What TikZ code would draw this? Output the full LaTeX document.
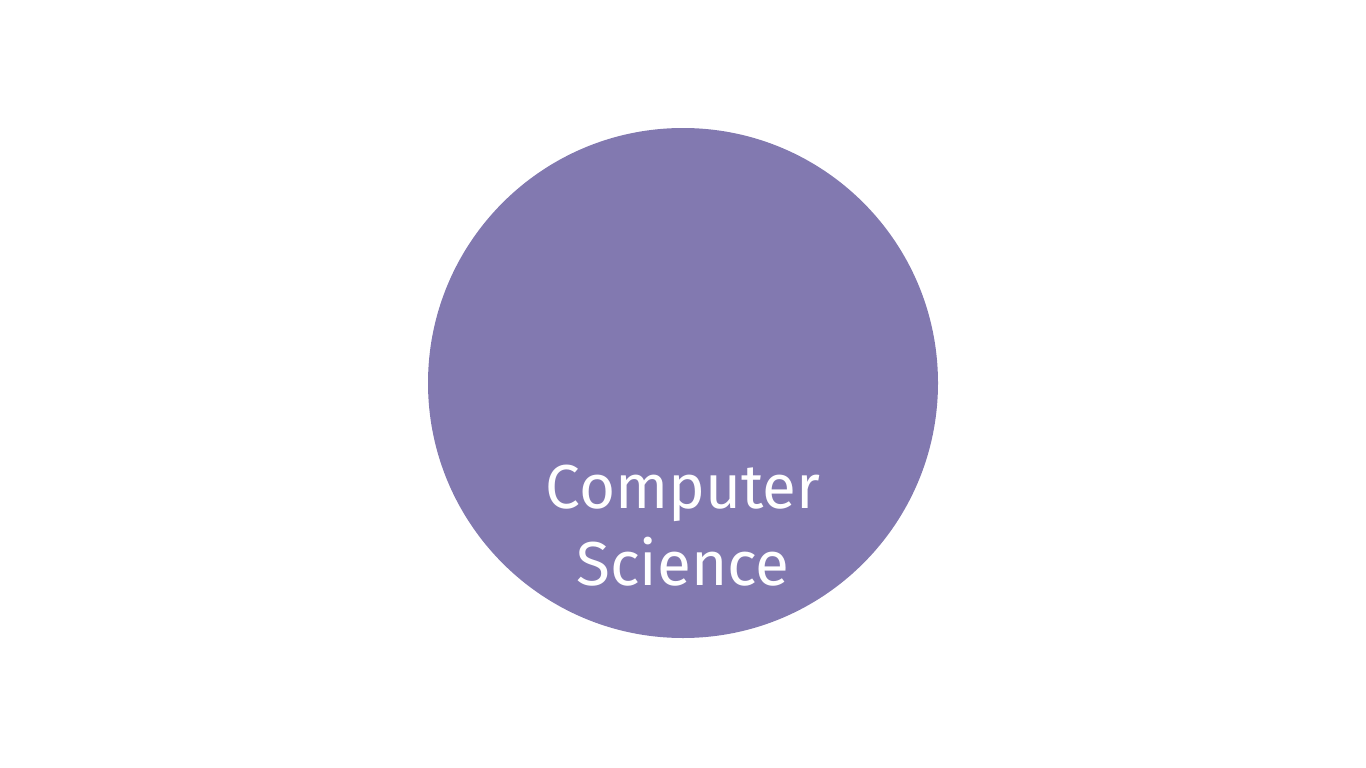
\documentclass[tikz,border=0pt]{standalone}
\usepackage{fontspec}
\setmainfont{Fira Sans}
\usepackage{tikz}
\usetikzlibrary{positioning}
\definecolor{csPurple}{HTML}{8279B0}
\tikzset{
  fieldCircle/.style={circle, fill=csPurple, draw=none, minimum size=510pt, inner sep=0pt},
  fieldLabel/.style={text=white, align=center, font=\fontsize{62}{77}\selectfont, inner sep=0pt}
}
\begin{document}
\begin{tikzpicture}[x=1pt, y=-1pt]
  \useasboundingbox (0,0) rectangle (1366,768);
  \node[fieldCircle] (cs) at (683,383) {};
  \node[fieldLabel, anchor=base] (cslabel) at (683,585) {Computer\\Science};
\end{tikzpicture}
\end{document}
